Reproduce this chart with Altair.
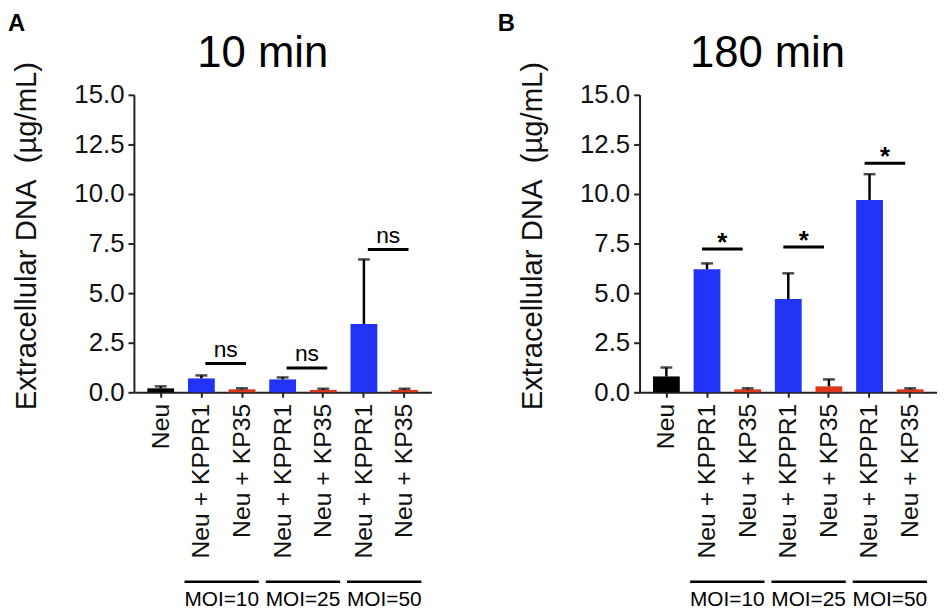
import altair as alt
import pandas as pd

# ---- data ----
conditions = ["Neu", "Neu + KPPR1", "Neu + KP35", "Neu + KPPR1", "Neu + KP35", "Neu + KPPR1", "Neu + KP35"]
moi = ["", "MOI=10", "MOI=10", "MOI=25", "MOI=25", "MOI=50", "MOI=50"]
strain = ["Neu", "KPPR1", "KP35", "KPPR1", "KP35", "KPPR1", "KP35"]

mean_10 = [0.20, 0.70, 0.15, 0.65, 0.12, 3.45, 0.12]
upper_10 = [0.30, 0.85, 0.20, 0.75, 0.18, 6.70, 0.18]
mean_180 = [0.80, 6.20, 0.15, 4.70, 0.30, 9.70, 0.15]
upper_180 = [1.25, 6.50, 0.20, 6.00, 0.65, 11.00, 0.20]

moi_groups = ["MOI=10", "MOI=25", "MOI=50"]
sig_h_10 = [1.45, 1.22, 7.20]
sig_lab_10 = ["ns", "ns", "ns"]
sig_h_180 = [7.23, 7.33, 11.55]
sig_lab_180 = ["*", "*", "*"]

y_ticks = [0.0, 2.5, 5.0, 7.5, 10.0, 12.5, 15.0]
strain_domain = ["Neu", "KPPR1", "KP35"]
strain_colors = ["#000000", "#2233F6", "#DC361C"]

FONT = "Liberation Sans"
slots = [c + "|" + m for c, m in zip(conditions, moi)]

W, H = 300, 300


def panel(means, uppers, sig_h, sig_lab, title, letter, letter_x, title_x, sig_off, star):
    df = pd.DataFrame({"slot": slots, "strain": strain, "mean": means, "upper": uppers})
    grp = pd.DataFrame({
        "moi": moi_groups,
        "a": ["Neu + KPPR1|" + g for g in moi_groups],
        "b": ["Neu + KP35|" + g for g in moi_groups],
        "h": sig_h,
        "lab": sig_lab,
    })
    xs = alt.Scale(domain=slots, paddingInner=0.34, paddingOuter=0.33)
    xenc = alt.X(
        "slot:N", scale=xs, sort=slots,
        axis=alt.Axis(
            title=None, labelAngle=-90, labelFontSize=25, labelColor="#111",
            labelExpr="split(datum.label, '|')[0]", labelOverlap=False, labelLimit=400,
            tickSize=5, tickWidth=2, tickColor="#222", domainWidth=2, domainColor="#222",
            labelPadding=6,
        ),
    )
    ys = alt.Scale(domain=[0, 15], nice=False)
    yenc = alt.Y(
        "mean:Q", scale=ys,
        axis=alt.Axis(
            values=y_ticks, format=".1f", grid=False,
            title="Extracellular DNA\u00a0 (µg/mL)", titleFontSize=29.5, titleFontWeight="normal",
            titleColor="#111", titleAngle=-90, titleX=-108, titleY=142,
            titleBaseline="middle", titleAlign="center",
            labelFontSize=26, labelColor="#111", labelPadding=4,
            tickSize=6, tickWidth=2, tickColor="#222", domainWidth=2, domainColor="#222",
        ),
    )
    base = alt.Chart(df)
    bars = base.mark_bar().encode(
        x=xenc, y=yenc,
        color=alt.Color("strain:N", scale=alt.Scale(domain=strain_domain, range=strain_colors), legend=None),
    )
    whisk = base.mark_rule(color="black", strokeWidth=2.5).encode(
        x=alt.X("slot:N", scale=xs, sort=slots), y=alt.Y("mean:Q", scale=ys), y2="upper:Q"
    )
    caps = base.mark_tick(color="black", thickness=2.5, size=12).encode(
        x=alt.X("slot:N", scale=xs, sort=slots), y=alt.Y("upper:Q", scale=ys)
    )
    gbase = alt.Chart(grp)
    sig_rule = gbase.mark_rule(color="black", strokeWidth=3, xOffset=sig_off, x2Offset=sig_off).encode(
        x=alt.X("a:N", scale=xs, sort=slots), x2="b:N", y=alt.Y("h:Q", scale=ys)
    )
    if star:
        sig_text = gbase.mark_text(font=FONT, fontSize=26, fontWeight="bold", baseline="alphabetic",
                                   dx=20.5 + sig_off, dy=2).encode(
            x=alt.X("a:N", scale=xs, sort=slots), y=alt.Y("h:Q", scale=ys), text="lab:N")
    else:
        sig_text = gbase.mark_text(font=FONT, fontSize=23, baseline="alphabetic",
                                   dx=20.5 + sig_off, dy=-7).encode(
            x=alt.X("a:N", scale=xs, sort=slots), y=alt.Y("h:Q", scale=ys), text="lab:N")
    moi_rule = gbase.mark_rule(color="black", strokeWidth=2.5, xOffset=-17, x2Offset=17).encode(
        x=alt.X("a:N", scale=xs, sort=slots), x2="b:N", y=alt.value(491)
    )
    moi_text = gbase.mark_text(font=FONT, fontSize=21, baseline="alphabetic", dx=20.5).encode(
        x=alt.X("a:N", scale=xs, sort=slots), y=alt.value(516), text="moi:N"
    )
    let = alt.Chart(pd.DataFrame({"t": [letter]})).mark_text(
        font=FONT, fontSize=24, fontWeight="bold", align="left", baseline="top"
    ).encode(x=alt.value(letter_x), y=alt.value(-83), text="t:N")
    ttl = alt.Chart(pd.DataFrame({"t": [title]})).mark_text(
        font=FONT, fontSize=44, align="center", baseline="alphabetic"
    ).encode(x=alt.value(title_x), y=alt.value(-28), text="t:N")

    return alt.layer(bars, whisk, caps, sig_rule, sig_text, moi_rule, moi_text, let, ttl).properties(
        width=W, height=H,
    )


pA = panel(mean_10, upper_10, sig_h_10, sig_lab_10, "10 min", "A", -127, 130, 4, False)
pB = panel(mean_180, upper_180, sig_h_180, sig_lab_180, "180 min", "B", -143, 129, -5, True)

chart = alt.hconcat(pA, pB, spacing=67).properties(
    padding={"left": 0, "top": 2, "right": 0, "bottom": 0}
).configure(font=FONT).configure_view(stroke=None).configure_axis(labelFont=FONT, titleFont=FONT)

chart.save("out.html", embed_options={"renderer": "svg", "actions": False})
